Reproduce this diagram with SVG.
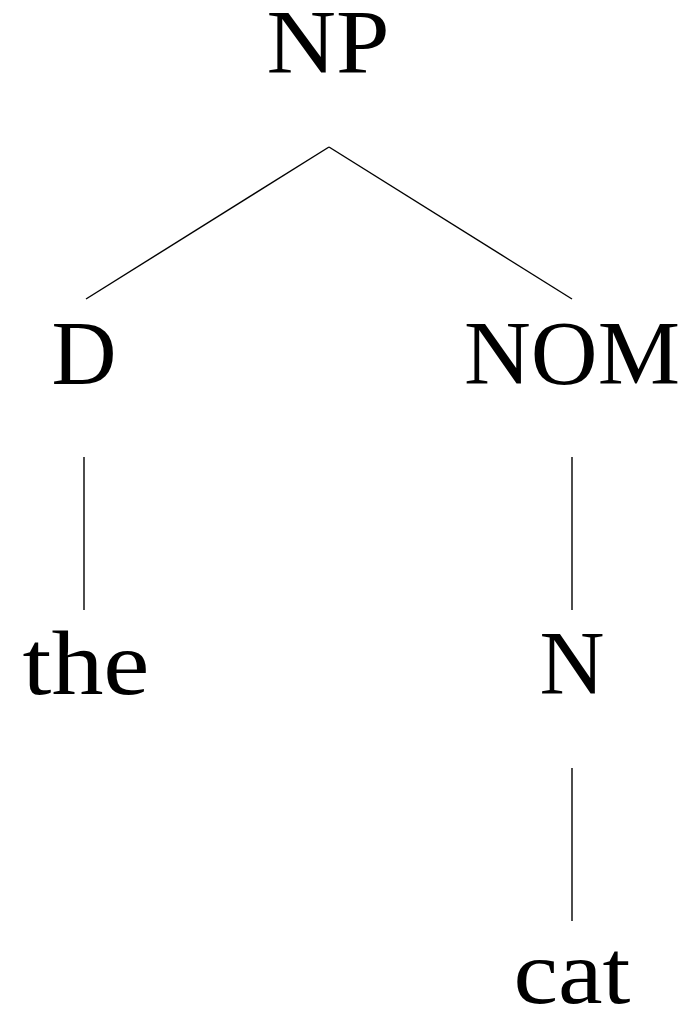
<svg xmlns="http://www.w3.org/2000/svg" width="685" height="1011" viewBox="0 0 685 1011">
<style>
.t{font-family:"Liberation Serif","DejaVu Serif",serif;font-size:90px;fill:#000;text-anchor:middle}
.e{stroke:#000;stroke-width:1.4;fill:none;stroke-linecap:butt}
</style>
<rect width="685" height="1011" fill="#fff"/>
<g id="connectors">
<line class="e" x1="329" y1="147" x2="86" y2="299"/>
<line class="e" x1="329" y1="147" x2="572" y2="299"/>
<line class="e" x1="84" y1="457" x2="84" y2="610"/>
<line class="e" x1="572" y1="457" x2="572" y2="610"/>
<line class="e" x1="572" y1="768" x2="572" y2="921"/>
</g>
<g id="node-NP"><text class="t" x="328" y="73" textLength="123" lengthAdjust="spacingAndGlyphs">NP</text></g>
<g id="node-D"><text class="t" x="84" y="384">D</text></g>
<g id="node-NOM"><text class="t" x="572" y="384" textLength="216" lengthAdjust="spacingAndGlyphs">NOM</text></g>
<g id="node-the"><text class="t" x="86" y="694" textLength="127" lengthAdjust="spacingAndGlyphs">the</text></g>
<g id="node-N"><text class="t" x="572" y="694">N</text></g>
<g id="node-cat"><text class="t" x="572" y="1003" textLength="117" lengthAdjust="spacingAndGlyphs">cat</text></g>
</svg>
